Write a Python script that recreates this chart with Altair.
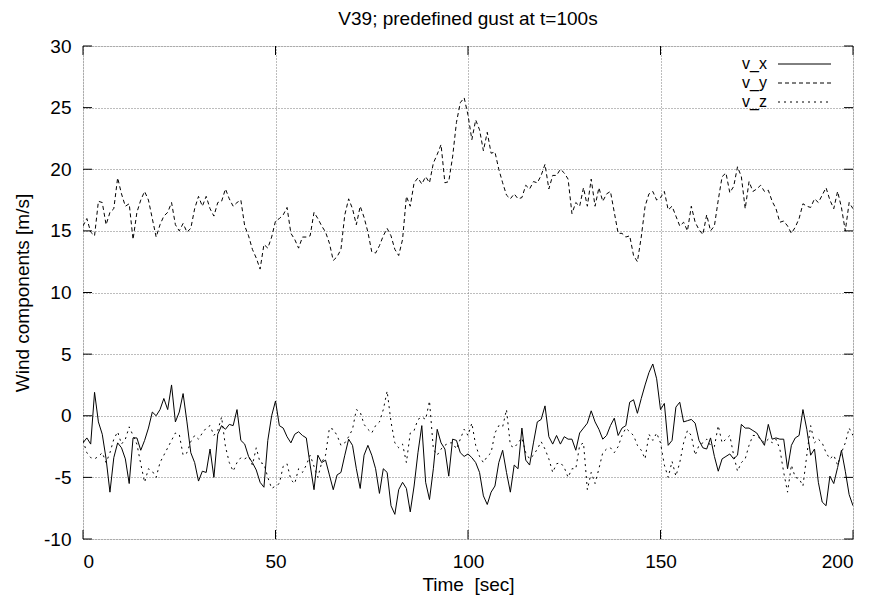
import altair as alt
import pandas as pd

title_text = "V39; predefined gust at t=100s"
x_title = "Time \u00a0[sec]"
y_title = "Wind components [m/s]"
series_names = ["v_x", "v_y", "v_z"]

x_ticks = [0, 50, 100, 150, 200]
y_ticks = [-10, -5, 0, 5, 10, 15, 20, 25, 30]

# time in seconds, one reading per second
time_s = list(range(0, 201))

v_x = [
    -2.2, -1.8, -2.3, 1.9, -0.5, -1.5, -3.5, -6.2, -3.4, -2.2,
    -2.6, -3.5, -5.5, -1.8, -1.8, -2.8, -2.0, -1.0, 0.3, 0.0,
    0.5, 1.4, 0.5, 2.5, -0.5, 0.3, 1.8, -0.5, -3.0, -3.8,
    -5.3, -4.5, -4.6, -2.7, -5.0, -1.5, -0.8, -1.1, -0.7, -0.8,
    0.5, -2.0, -2.3, -3.3, -3.8, -4.4, -5.4, -5.8, -2.0, 0.0,
    1.2, -0.8, -1.0, -1.7, -2.2, -1.5, -1.3, -1.6, -1.8, -4.0,
    -6.0, -3.2, -3.8, -3.6, -4.8, -6.0, -4.8, -4.6, -3.2, -1.9,
    -2.4, -4.3, -5.9, -3.2, -2.4, -3.2, -4.3, -6.3, -4.3, -4.6,
    -7.3, -8.0, -6.0, -5.4, -5.9, -7.8, -5.7, -3.0, -0.8, -5.4,
    -6.8, -4.3, -1.1, -2.2, -2.7, -4.9, -1.9, -2.0, -3.0, -3.3,
    -3.1, -3.4, -3.8, -4.6, -6.5, -7.2, -6.2, -5.7, -3.8, -2.8,
    -4.6, -6.2, -4.0, -4.3, -1.0, -3.6, -4.0, -2.2, -0.5, -0.3,
    0.8, -1.7, -2.3, -1.6, -2.3, -1.7, -1.9, -1.9, -2.8, -1.4,
    -1.0, -0.6, 0.4, -0.5, -1.1, -1.9, -1.6, -0.8, -0.2, -1.6,
    -1.0, -0.8, 1.1, 1.3, 0.2, 1.4, 2.5, 3.5, 4.2, 3.0,
    0.5, 1.0, -2.4, -2.0, 0.7, 1.1, -0.5, -0.4, -0.3, -0.6,
    -2.0, -2.6, -2.7, -1.8, -3.3, -4.5, -3.5, -3.3, -3.1, -3.5,
    -3.2, -0.7, -1.0, -1.0, -1.2, -1.4, -1.9, -2.4, -0.7, -1.9,
    -1.8, -1.9, -1.9, -4.3, -2.4, -1.8, -1.6, 0.5, -1.1, -3.2,
    -2.7, -5.4, -7.0, -7.3, -4.9, -5.5, -4.2, -2.8, -4.5, -6.4,
    -7.3,
]

v_y = [
    15.4, 16.0, 14.9, 14.6, 17.4, 17.3, 15.5, 16.5, 16.8, 19.3,
    18.0, 17.0, 17.2, 14.3, 16.5, 17.5, 18.2, 17.5, 16.0, 14.5,
    15.5, 16.2, 16.5, 17.3, 15.5, 15.0, 15.6, 14.9, 15.2, 16.8,
    17.8, 17.0, 17.8, 16.8, 16.2, 17.3, 17.4, 18.4, 17.6, 17.0,
    17.3, 17.5, 15.4, 14.6, 13.5, 12.8, 11.9, 13.9, 13.6, 14.5,
    15.8, 16.0, 16.3, 16.9, 14.8, 14.3, 13.6, 14.5, 14.5, 14.6,
    16.5, 16.0, 15.4, 14.9, 14.0, 12.6, 12.9, 13.5, 16.3, 17.6,
    16.8, 15.5, 17.0, 16.1, 14.9, 13.3, 13.2, 13.8, 14.6, 15.2,
    14.6, 13.5, 13.0, 14.3, 17.8, 17.0, 18.9, 19.3, 18.8, 19.4,
    18.9, 20.5, 21.2, 22.0, 18.9, 19.0, 21.0, 23.8, 25.4, 25.8,
    24.4, 22.4, 24.0, 23.2, 21.5, 23.0, 21.3, 21.4, 20.0, 18.9,
    17.9, 17.6, 18.0, 17.6, 17.7, 18.7, 18.4, 19.0, 18.9, 19.5,
    20.4, 18.4, 19.5, 19.5, 20.0, 19.7, 19.2, 16.4, 17.3, 17.0,
    18.5, 17.0, 19.2, 17.0, 18.5, 17.4, 18.0, 18.2, 16.5, 14.8,
    14.8, 14.5, 14.6, 13.0, 12.5, 14.5, 17.0, 18.0, 18.2, 17.5,
    17.7, 18.2, 16.7, 17.0, 16.2, 15.4, 15.7, 15.0, 17.0, 15.7,
    15.1, 14.7, 16.3, 15.0, 15.4, 17.5, 19.4, 19.7, 18.1, 18.6,
    20.2, 19.4, 16.8, 19.0, 18.2, 18.4, 18.7, 18.2, 18.3, 17.4,
    16.8, 15.7, 15.8, 15.4, 14.8, 15.3, 16.0, 17.2, 17.0, 16.9,
    17.6, 17.3, 17.9, 18.5, 17.5, 16.8, 18.2, 16.9, 15.0, 17.3,
    16.8,
]

v_z = [
    -2.0, -3.0, -3.4, -3.5, -3.3, -3.0, -3.8, -3.0, -1.9, -1.3,
    -2.3, -1.9, -0.9, -1.6, -2.3, -3.9, -5.4, -4.3, -4.5, -5.0,
    -3.8, -3.2, -2.6, -2.0, -1.4, -1.5, -3.2, -3.0, -2.1, -1.6,
    -1.9, -1.4, -1.0, -0.8, -1.6, -1.2, -0.1, -2.5, -3.8, -4.5,
    -3.8, -3.4, -3.5, -3.3, -4.0, -2.6, -3.8, -3.9, -5.0, -5.9,
    -5.7, -5.5, -4.1, -3.9, -5.2, -5.5, -4.3, -4.6, -4.0, -3.2,
    -4.1, -5.0, -3.8, -3.2, -1.0, -1.1, -1.6, -2.4, -2.2, -1.7,
    -1.1, 0.5, 0.3, -0.7, -1.1, -1.4, -0.8, -0.5, 0.5, 2.0,
    -0.5, -2.2, -2.6, -2.3, -3.8, -1.4, -1.2, -0.3, -0.1, -0.3,
    1.2, -2.7, -3.2, -2.7, -2.4, -2.2, -2.2, -2.7, -1.9, -1.1,
    -1.6, -0.6, -2.4, -3.3, -3.8, -3.3, -3.0, -1.4, -0.8, -0.9,
    0.5, -2.4, -2.6, -2.2, -1.8, -3.0, -3.5, -3.2, -2.7, -2.1,
    -2.7, -3.5, -4.6, -3.9, -3.8, -4.2, -5.0, -4.3, -4.3, -2.4,
    -2.2, -6.0, -4.6, -5.5, -4.3, -3.0, -2.7, -2.6, -3.0, -2.5,
    -1.6, -1.0, -1.3, -1.6, -2.4, -2.8, -3.5, -1.5, -2.0, -1.4,
    -2.2, -4.0, -5.0, -3.7, -4.9, -3.8, -2.2, -1.2, -1.6, -3.2,
    -2.4, -2.2, -1.9, -2.4, -2.5, -0.8, -2.2, -1.9, -1.6, -3.2,
    -4.5, -3.8, -3.5, -2.4, -1.6, -1.6, -1.9, -2.2, -1.9, -2.2,
    -1.9, -2.7, -4.6, -6.2, -4.0, -5.0, -5.1, -5.7, -3.2, -0.8,
    -2.2, -1.9, -2.2, -3.0, -3.5, -3.2, -4.0, -3.0, -2.2, -1.0,
    -1.6,
]

W, H = 770, 493
FONT = "Liberation Sans"
FS = 19
LEG_FS = 16
TICK = 9

df = pd.DataFrame({"t": time_s, "v_x": v_x, "v_y": v_y, "v_z": v_z})

xs = alt.Scale(domain=[0, 200], nice=False, zero=False)
ys = alt.Scale(domain=[-10, 30], nice=False, zero=False)

x_axis = alt.Axis(values=x_ticks, grid=True, gridColor="#7a7a7a", gridDash=[1, 2],
                  gridWidth=1, tickSize=0, domain=False, labelPadding=13,
                  labelFontSize=FS, labelFont=FONT, labelColor="black",
                  labelExpr="toString(datum.value)",
                  title=x_title, titleFontSize=FS, titleFont=FONT,
                  titleFontWeight="normal", titleColor="black", titlePadding=4)
y_axis = alt.Axis(values=y_ticks, grid=True, gridColor="#7a7a7a", gridDash=[1, 2],
                  gridWidth=1, tickSize=0, domain=False, labelPadding=12,
                  labelFontSize=FS, labelFont=FONT, labelColor="black",
                  labelExpr="toString(datum.value)",
                  title=y_title, titleFontSize=FS, titleFont=FONT,
                  titleFontWeight="normal", titleColor="black", titlePadding=11)

base = alt.Chart(df)

grid = base.mark_line(opacity=0).encode(
    x=alt.X("t:Q", scale=xs, axis=x_axis),
    y=alt.Y("v_y:Q", scale=ys, axis=y_axis),
)

line_x = base.mark_line(color="black", strokeWidth=1, clip=True).encode(
    x=alt.X("t:Q", scale=xs), y=alt.Y("v_x:Q", scale=ys))
line_y = base.mark_line(color="black", strokeWidth=1, strokeDash=[4, 3], clip=True).encode(
    x=alt.X("t:Q", scale=xs), y=alt.Y("v_y:Q", scale=ys))
line_z = base.mark_line(color="black", strokeWidth=1, strokeDash=[2, 4], clip=True).encode(
    x=alt.X("t:Q", scale=xs), y=alt.Y("v_z:Q", scale=ys))

xt = alt.Chart(pd.DataFrame({"x": x_ticks}))
yt = alt.Chart(pd.DataFrame({"y": y_ticks}))
ticks_bottom = xt.mark_rule(color="black", strokeWidth=1).encode(
    x=alt.X("x:Q", scale=xs), y=alt.value(H), y2=alt.value(H - TICK))
ticks_top = xt.mark_rule(color="black", strokeWidth=1).encode(
    x=alt.X("x:Q", scale=xs), y=alt.value(0), y2=alt.value(TICK))
ticks_left = yt.mark_rule(color="black", strokeWidth=1).encode(
    y=alt.Y("y:Q", scale=ys), x=alt.value(0), x2=alt.value(TICK))
ticks_right = yt.mark_rule(color="black", strokeWidth=1).encode(
    y=alt.Y("y:Q", scale=ys), x=alt.value(W), x2=alt.value(W - TICK))

# manual gnuplot-style legend (label left of sample line)
leg_rows = [18.0, 37.0, 56.0]
leg_dash = [[1, 0], [4, 3], [2, 4]]
legend_layers = []
for name, yy, dash in zip(series_names, leg_rows, leg_dash):
    ldf = pd.DataFrame({"name": [name]})
    legend_layers.append(
        alt.Chart(ldf).mark_text(align="right", baseline="middle", fontSize=LEG_FS,
                                 font=FONT, color="black").encode(
            text="name:N", x=alt.value(684), y=alt.value(yy)))
    legend_layers.append(
        alt.Chart(ldf).mark_rule(color="black", strokeWidth=1, strokeDash=dash).encode(
            x=alt.value(695), x2=alt.value(748), y=alt.value(yy)))

chart = alt.layer(
    grid, line_x, line_y, line_z,
    ticks_bottom, ticks_top, ticks_left, ticks_right,
    *legend_layers,
).properties(
    width=W, height=H,
    title=alt.TitleParams(title_text, fontSize=FS, font=FONT, fontWeight="normal",
                          color="black", anchor="middle", offset=8),
    autosize=alt.AutoSizeParams(type="none"),
    padding={"left": 75, "top": 38, "right": 11, "bottom": 56},
).configure_view(
    stroke="black", strokeWidth=1
).configure(background="white")

chart.save("out.html", embed_options={"renderer": "svg", "actions": False})
